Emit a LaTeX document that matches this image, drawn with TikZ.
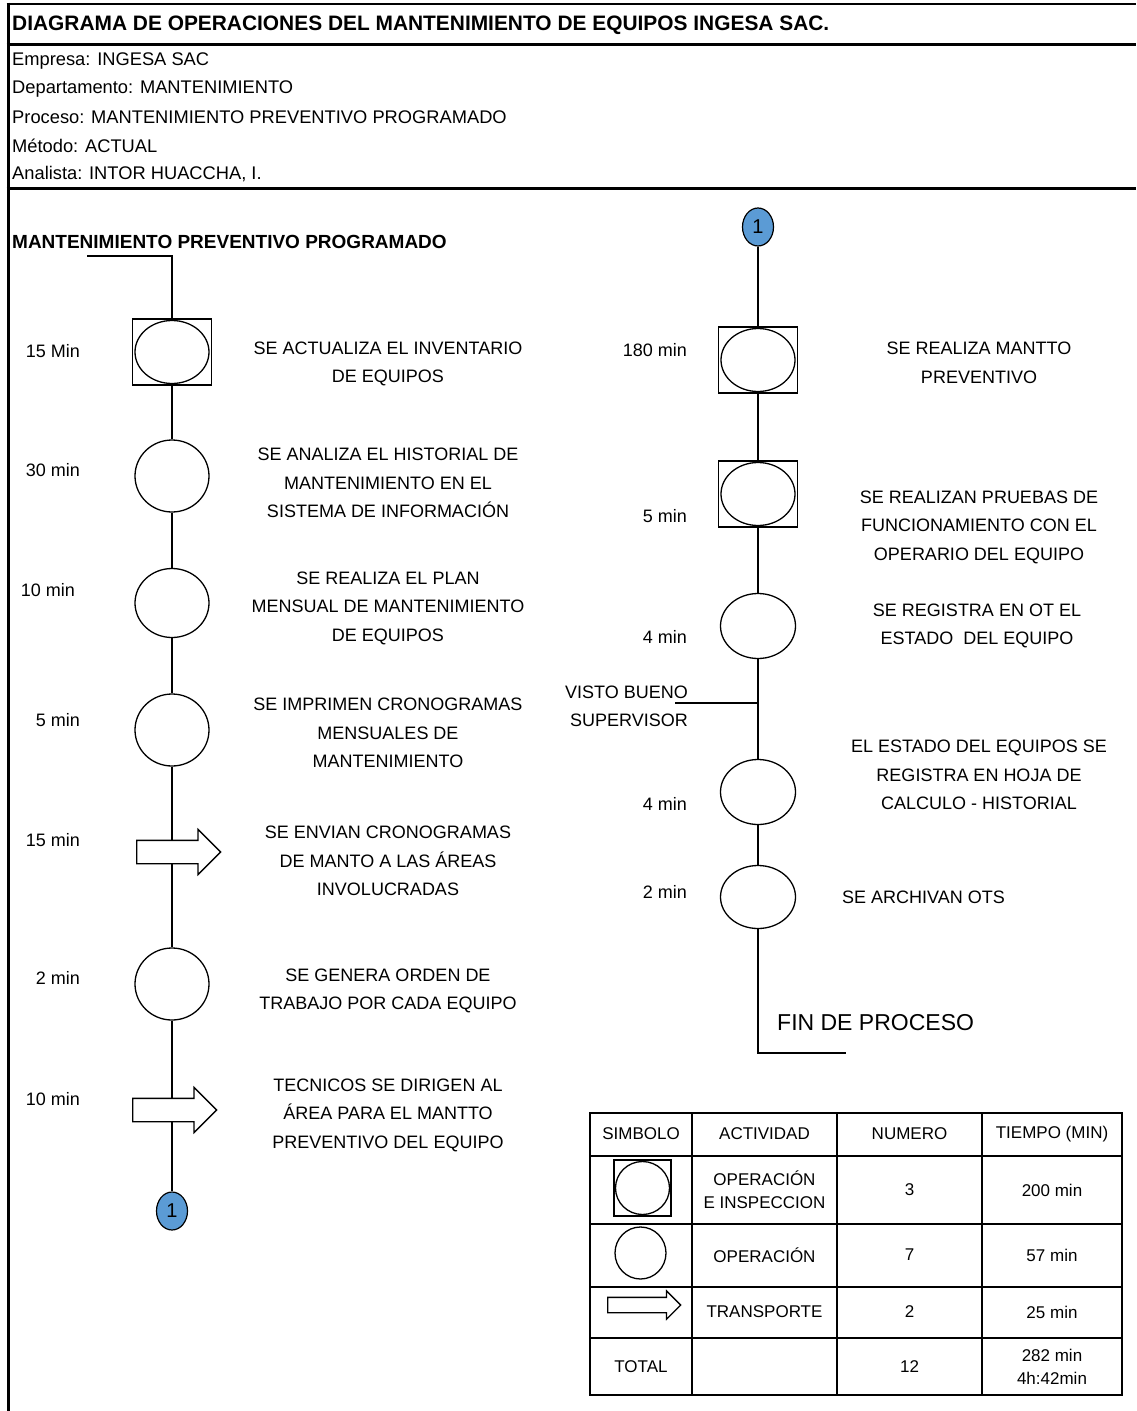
\documentclass[tikz,border=0pt]{standalone}
\usepackage{fontspec}
\setmainfont{Liberation Sans}
\usetikzlibrary{shapes.geometric,shapes.arrows,backgrounds}
\definecolor{conblue}{RGB}{91,155,213}
\begin{document}
\begin{tikzpicture}[x=1pt,y=-1pt,
  ln/.style={line width=1.3pt},
  tline/.style={line width=1.7pt},
  hdr/.style={anchor=west,inner sep=0,font=\fontsize{18.3}{22}\selectfont},
  bhdr/.style={anchor=west,inner sep=0,font=\bfseries\fontsize{19}{22}\selectfont},
  desc/.style={align=center,inner sep=0,font=\fontsize{18}{28.5}\selectfont},
  tm/.style={anchor=east,inner sep=0,font=\fontsize{18}{22}\selectfont},
  opins/.style={draw,line width=1.3pt,rectangle,inner sep=0,minimum width=79pt,minimum height=66pt,fill=white,
     path picture={\draw[line width=1.3pt] (path picture bounding box.center) ellipse [x radius=37pt,y radius=31.5pt];}},
  opinsS/.style={draw,line width=1.3pt,rectangle,inner sep=0,minimum width=57pt,minimum height=56pt,fill=white,
     path picture={\draw[line width=1.3pt] (path picture bounding box.center) ellipse [x radius=27pt,y radius=26.5pt];}},
  oper/.style={draw,line width=1.3pt,ellipse,inner sep=0,minimum width=74pt,minimum height=72pt,fill=white},
  transp/.style={draw,line width=1.3pt,single arrow,single arrow tip angle=90,single arrow head extend=11pt,
     inner xsep=0pt,inner ysep=11pt,minimum height=84pt,fill=white,anchor=tail},
  transpS/.style={draw,line width=1.3pt,single arrow,single arrow tip angle=90,single arrow head extend=6.5pt,
     inner xsep=0pt,inner ysep=7pt,minimum height=73pt,fill=white,anchor=tail},
  conn/.style={ellipse,draw,line width=1.2pt,fill=conblue,inner sep=0,minimum width=31pt,minimum height=38pt,
     font=\fontsize{20}{24}\selectfont},
  tbl/.style={inner sep=0,align=center,font=\fontsize{17}{23}\selectfont}
]
\useasboundingbox (0,0) rectangle (1136,1411);

% frame
\draw[line width=3pt] (8,2.5) -- (8,1411);
\draw[line width=2.5pt] (6.5,4) -- (1136,4);
\draw[line width=3pt] (6.5,44) -- (1136,44);
\draw[line width=3pt] (6.5,188) -- (1136,188);

% header
\node[anchor=west,inner sep=0,font=\bfseries\fontsize{20.9}{24}\selectfont] (title) at (12,25)
  {DIAGRAMA DE OPERACIONES DEL MANTENIMIENTO DE EQUIPOS INGESA SAC.};
\node[hdr] (h1) at (12,61) {Empresa: INGESA SAC};
\node[hdr] (h2) at (12,89) {Departamento: MANTENIMIENTO};
\node[hdr] (h3) at (12,117) {Proceso: MANTENIMIENTO PREVENTIVO PROGRAMADO};
\node[hdr] (h4) at (12,146) {Método: ACTUAL};
\node[hdr] (h5) at (12,174) {Analista: INTOR HUACCHA, I.};

% left column
\node[bhdr] (ltitle) at (12,242) {MANTENIMIENTO PREVENTIVO PROGRAMADO};
\coordinate (s0) at (87,256);
\coordinate (s1) at (172,256);
\node[opins] (l1) at (172,352) {};
\node[oper] (l2) at (172,476) {};
\node[oper,minimum height=69pt] (l3) at (172,603) {};
\node[oper] (l4) at (172,730) {};
\node[transp] (l5) at (136,852) {};
\node[oper] (l6) at (172,984) {};
\node[transp] (l7) at (132,1110) {};
\node[conn] (l8) at (172,1211) {1};

\begin{pgfonlayer}{background}
\draw[ln] (s0) -- (s1) -- (l1.north);
\draw[ln] (l1.south) -- (l2.north);
\draw[ln] (l2.south) -- (l3.north);
\draw[ln] (l3.south) -- (l4.north);
\draw[ln] (l4.south) -- (l4.south |- l5.tail) -- (l6.north);
\draw[ln] (l6.south) -- (l6.south |- l7.tail) -- (l8.north);
\end{pgfonlayer}

\node[tm] (t1) at (80,351) {15 Min};
\node[tm] (t2) at (80,470) {30 min};
\node[tm] (t3) at (75,590) {10 min};
\node[tm] (t4) at (80,720) {5 min};
\node[tm] (t5) at (80,840) {15 min};
\node[tm] (t6) at (80,978) {2 min};
\node[tm] (t7) at (80,1099) {10 min};

\node[desc] (d1) at (388,364) {SE ACTUALIZA EL INVENTARIO\\DE EQUIPOS};
\node[desc] (d2) at (388,483) {SE ANALIZA EL HISTORIAL DE\\MANTENIMIENTO EN EL\\SISTEMA DE INFORMACIÓN};
\node[desc] (d3) at (388,608) {SE REALIZA EL PLAN\\MENSUAL DE MANTENIMIENTO\\DE EQUIPOS};
\node[desc] (d4) at (388,733) {SE IMPRIMEN CRONOGRAMAS\\MENSUALES DE\\MANTENIMIENTO};
\node[desc] (d5) at (388,861) {SE ENVIAN CRONOGRAMAS\\DE MANTO A LAS ÁREAS\\INVOLUCRADAS};
\node[desc] (d6) at (388,991) {SE GENERA ORDEN DE\\TRABAJO POR CADA EQUIPO};
\node[desc] (d7) at (388,1115) {TECNICOS SE DIRIGEN AL\\ÁREA PARA EL MANTTO\\PREVENTIVO DEL EQUIPO};

% right column
\node[conn] (r0) at (758,227) {1};
\node[opins] (r1) at (758,360) {};
\node[opins] (r2) at (758,494) {};
\node[oper,minimum width=75pt,minimum height=65pt] (r3) at (758,626) {};
\node[oper,minimum width=75pt,minimum height=65pt] (r4) at (758,792) {};
\node[oper,minimum width=75pt,minimum height=63pt] (r5) at (758,897) {};
\coordinate (vb0) at (675,703);
\coordinate (vb) at (758,703);
\coordinate (e1) at (758,1053);
\coordinate (e2) at (846,1053);

\begin{pgfonlayer}{background}
\draw[ln] (r0.south) -- (r1.north);
\draw[ln] (r1.south) -- (r2.north);
\draw[ln] (r2.south) -- (r3.north);
\draw[ln] (r3.south) -- (r4.north);
\draw[ln] (vb0) -- (vb);
\draw[ln] (r4.south) -- (r5.north);
\draw[ln] (r5.south) -- (e1) -- (e2);
\end{pgfonlayer}

\node[tm] (u1) at (687,350) {180 min};
\node[tm] (u2) at (687,516) {5 min};
\node[tm] (u3) at (687,637) {4 min};
\node[tm] (u4) at (687,804) {4 min};
\node[tm] (u5) at (687,892) {2 min};
\node[align=right,anchor=east,inner sep=0,font=\fontsize{18}{28}\selectfont] (vbt) at (688,706) {VISTO BUENO\\SUPERVISOR};

\node[desc] (f1) at (979,363) {SE REALIZA MANTTO\\PREVENTIVO};
\node[desc] (f2) at (979,527) {SE REALIZAN PRUEBAS DE\\FUNCIONAMIENTO CON EL\\OPERARIO DEL EQUIPO};
\node[desc] (f3) at (977,626) {SE REGISTRA EN OT EL\\ESTADO\ \ DEL EQUIPO};
\node[desc] (f4) at (979,775) {EL ESTADO DEL EQUIPOS SE\\REGISTRA EN HOJA DE\\CALCULO - HISTORIAL};
\node[anchor=west,inner sep=0,font=\fontsize{18}{22}\selectfont] (f5) at (842,897) {SE ARCHIVAN OTS};
\node[anchor=west,inner sep=0,font=\fontsize{23}{26}\selectfont] (fin) at (777,1023) {FIN DE PROCESO};

% table
\draw[tline] (590,1113) rectangle (1122,1395);
\draw[tline] (692,1113) -- (692,1395);
\draw[tline] (837,1113) -- (837,1395);
\draw[tline] (982,1113) -- (982,1395);
\draw[tline] (590,1156) -- (1122,1156);
\draw[tline] (590,1224) -- (1122,1224);
\draw[tline] (590,1287) -- (1122,1287);
\draw[tline] (590,1338) -- (1122,1338);

\node[tbl] (c11) at (641,1134) {SIMBOLO};
\node[tbl] (c12) at (764.5,1134) {ACTIVIDAD};
\node[tbl] (c13) at (909.5,1134) {NUMERO};
\node[tbl] (c14) at (1052,1134) {TIEMPO (MIN)};

\node[opinsS] (ts1) at (642.5,1188) {};
\node[tbl] (c22) at (764.5,1190) {OPERACIÓN\\E INSPECCION};
\node[tbl] (c23) at (909.5,1190) {3};
\node[tbl] (c24) at (1052,1190) {200 min};

\node[oper,minimum width=51pt,minimum height=52pt] (ts2) at (640.5,1253) {};
\node[tbl] (c32) at (764.5,1255) {OPERACIÓN};
\node[tbl] (c33) at (909.5,1255) {7};
\node[tbl] (c34) at (1052,1255) {57 min};

\node[transpS] (ts3) at (607,1305) {};
\node[tbl] (c42) at (764.5,1312) {TRANSPORTE};
\node[tbl] (c43) at (909.5,1312) {2};
\node[tbl] (c44) at (1052,1312) {25 min};

\node[tbl] (c51) at (641,1367) {TOTAL};
\node[tbl] (c53) at (909.5,1367) {12};
\node[tbl] (c54) at (1052,1367) {282 min\\4h:42min};
\end{tikzpicture}
\end{document}
